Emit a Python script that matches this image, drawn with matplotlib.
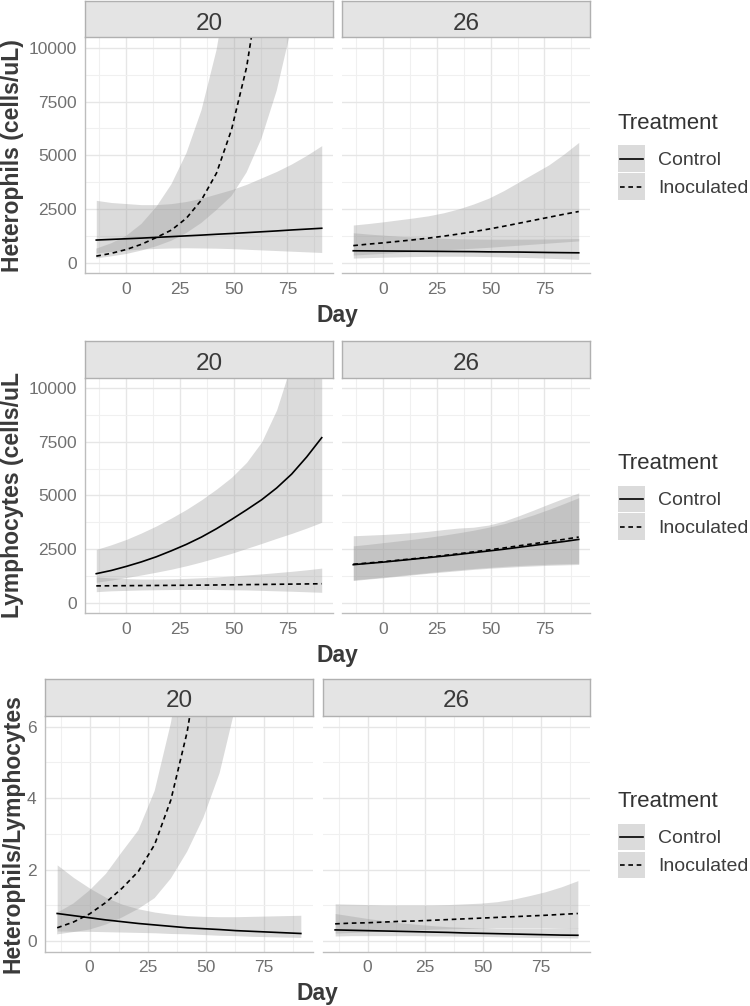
import matplotlib
matplotlib.use('Agg')
import matplotlib.pyplot as plt
import matplotlib.patches as patches
import matplotlib.transforms as mtransforms
from matplotlib.lines import Line2D

plt.rcParams['font.family'] = ['Liberation Sans', 'DejaVu Sans']

# ---- data ----
days = [-14, -7, 0, 7, 14, 21, 28, 35, 42, 49, 56, 63, 70, 77, 84, 91]
temps = ['20', '26']
treatments = ['Control', 'Inoculated']

# Heterophils, 20
het20_ctrl = [1050, 1080, 1110, 1140, 1175, 1210, 1245, 1280, 1320, 1355, 1395, 1435, 1475, 1520, 1560, 1600]
het20_ctrl_lo = [450, 520, 580, 630, 660, 680, 690, 680, 670, 650, 620, 590, 560, 530, 500, 470]
het20_ctrl_hi = [2900, 2800, 2750, 2700, 2700, 2750, 2850, 3000, 3200, 3400, 3650, 3950, 4250, 4600, 5000, 5450]
het20_inoc = [300, 430, 610, 850, 1170, 1515, 2070, 2920, 4170, 6200, 9100, 13500, 20000, 29000, 42000, 62000]
het20_inoc_lo = [190, 290, 400, 560, 760, 1020, 1380, 1850, 2450, 3100, 4200, 5800, 8000, 11000, 15000, 20000]
het20_inoc_hi = [650, 900, 1250, 1800, 2600, 3650, 5100, 7100, 9900, 14000, 20000, 28000, 39000, 54000, 75000, 100000]
# Heterophils, 26
het26_ctrl = [550, 545, 540, 535, 530, 525, 520, 515, 510, 500, 495, 490, 480, 470, 462, 455]
het26_ctrl_lo = [210, 230, 250, 265, 280, 290, 295, 295, 290, 280, 265, 245, 225, 200, 175, 150]
het26_ctrl_hi = [1390, 1330, 1280, 1230, 1190, 1160, 1130, 1110, 1100, 1090, 1090, 1090, 1095, 1100, 1110, 1120]
het26_inoc = [790, 860, 920, 990, 1060, 1140, 1230, 1330, 1440, 1560, 1690, 1830, 1970, 2110, 2250, 2380]
het26_inoc_lo = [350, 390, 430, 470, 510, 550, 590, 630, 670, 710, 760, 810, 860, 910, 960, 1010]
het26_inoc_hi = [1750, 1820, 1900, 1990, 2080, 2180, 2320, 2500, 2730, 3000, 3350, 3750, 4150, 4550, 5050, 5600]

# Lymphocytes, 20
lym20_ctrl = [1350, 1500, 1690, 1900, 2140, 2420, 2720, 3060, 3450, 3880, 4330, 4800, 5350, 6000, 6800, 7700]
lym20_ctrl_lo = [950, 1050, 1170, 1290, 1420, 1560, 1720, 1900, 2100, 2300, 2530, 2760, 3000, 3230, 3480, 3750]
lym20_ctrl_hi = [2480, 2700, 2950, 3250, 3580, 3950, 4350, 4800, 5300, 5850, 6550, 7500, 9000, 11200, 14000, 17500]
lym20_inoc = [780, 785, 790, 795, 800, 805, 810, 815, 822, 830, 838, 846, 855, 863, 871, 880]
lym20_inoc_lo = [510, 550, 570, 590, 600, 610, 615, 615, 610, 600, 590, 570, 550, 530, 505, 480]
lym20_inoc_hi = [1200, 1150, 1120, 1100, 1100, 1110, 1130, 1160, 1200, 1240, 1290, 1340, 1400, 1460, 1530, 1610]
# Lymphocytes, 26
lym26_ctrl = [1770, 1830, 1890, 1960, 2030, 2100, 2170, 2250, 2330, 2410, 2490, 2580, 2670, 2760, 2850, 2950]
lym26_ctrl_lo = [1030, 1100, 1160, 1230, 1300, 1370, 1430, 1490, 1550, 1600, 1640, 1680, 1710, 1740, 1760, 1780]
lym26_ctrl_hi = [2650, 2720, 2800, 2880, 2960, 3050, 3150, 3260, 3380, 3520, 3680, 3880, 4100, 4350, 4620, 4900]
lym26_inoc = [1790, 1850, 1910, 1980, 2050, 2120, 2200, 2280, 2370, 2460, 2550, 2650, 2750, 2850, 2950, 3060]
lym26_inoc_lo = [1060, 1120, 1190, 1260, 1330, 1400, 1470, 1530, 1590, 1640, 1690, 1730, 1760, 1790, 1810, 1830]
lym26_inoc_hi = [3120, 3150, 3180, 3220, 3270, 3330, 3410, 3480, 3520, 3620, 3800, 4050, 4320, 4600, 4870, 5120]

# Heterophils/Lymphocytes, 20
hl20_ctrl = [0.77, 0.71, 0.65, 0.59, 0.54, 0.49, 0.45, 0.41, 0.37, 0.345, 0.32, 0.29, 0.27, 0.25, 0.23, 0.21]
hl20_ctrl_lo = [0.28, 0.27, 0.27, 0.26, 0.25, 0.24, 0.23, 0.21, 0.2, 0.18, 0.16, 0.15, 0.13, 0.12, 0.11, 0.1]
hl20_ctrl_hi = [2.13, 1.78, 1.48, 1.22, 1.03, 0.9, 0.81, 0.75, 0.71, 0.69, 0.68, 0.68, 0.69, 0.7, 0.71, 0.72]
hl20_inoc = [0.37, 0.53, 0.76, 1.08, 1.48, 1.95, 2.7, 3.95, 5.85, 8.6, 12.5, 18, 26, 38, 55, 80]
hl20_inoc_lo = [0.185, 0.25, 0.32, 0.46, 0.66, 0.9, 1.2, 1.75, 2.5, 3.45, 4.7, 6.6, 9.5, 13.5, 19, 27]
hl20_inoc_hi = [0.79, 1.05, 1.42, 1.88, 2.5, 3.1, 4.2, 6.1, 8.8, 13, 19, 28, 40, 58, 82, 115]
# Heterophils/Lymphocytes, 26
hl26_ctrl = [0.31, 0.3, 0.29, 0.28, 0.27, 0.26, 0.25, 0.24, 0.225, 0.215, 0.205, 0.195, 0.185, 0.175, 0.165, 0.16]
hl26_ctrl_lo = [0.14, 0.15, 0.15, 0.15, 0.15, 0.15, 0.14, 0.14, 0.13, 0.13, 0.12, 0.11, 0.1, 0.095, 0.09, 0.08]
hl26_ctrl_hi = [0.77, 0.7, 0.63, 0.57, 0.51, 0.47, 0.43, 0.4, 0.38, 0.37, 0.36, 0.36, 0.36, 0.36, 0.37, 0.37]
hl26_inoc = [0.48, 0.5, 0.51, 0.53, 0.55, 0.56, 0.58, 0.6, 0.62, 0.64, 0.66, 0.68, 0.7, 0.72, 0.745, 0.77]
hl26_inoc_lo = [0.22, 0.24, 0.26, 0.28, 0.3, 0.31, 0.33, 0.34, 0.35, 0.36, 0.37, 0.37, 0.37, 0.37, 0.37, 0.36]
hl26_inoc_hi = [1.04, 1.03, 1.02, 1.01, 1.01, 1.01, 1.01, 1.02, 1.04, 1.06, 1.1, 1.17, 1.27, 1.38, 1.52, 1.69]

x_ticks = [0, 25, 50, 75]
x_ticklabels = ['0', '25', '50', '75']
cells_ticks = [0, 2500, 5000, 7500, 10000]
cells_ticklabels = ['0', '2500', '5000', '7500', '10000']
ratio_ticks = [0, 2, 4, 6]
ratio_ticklabels = ['0', '2', '4', '6']
ylabels = ['Heterophils (cells/uL)', 'Lymphocytes (cells/uL', 'Heterophils/Lymphocytes']

# ---- layout (pixels, origin top-left) ----
W, H = 750, 1006
fig = plt.figure(figsize=(W / 100, H / 100), dpi=100)
T = mtransforms.Affine2D().scale(1 / W, -1 / H).translate(0, 1) + fig.transFigure

BAND = '#999999'
DASH = (0, (2.8, 2.2))
TXT = '#3a3a3a'
LW = 1.2


def px_axes(l, t, r, b):
    return fig.add_axes([l / W, 1 - b / H, (r - l) / W, (b - t) / H])


def draw_panel(ax, ctrl, inoc, ylim, yticks, yticklabels, first):
    # ribbons first, lines on top
    ax.fill_between(days, ctrl[1], ctrl[2], color=BAND, alpha=0.35, lw=0)
    ax.fill_between(days, inoc[1], inoc[2], color=BAND, alpha=0.35, lw=0)
    ax.plot(days, ctrl[0], color='black', lw=LW)
    ax.plot(days, inoc[0], color='black', lw=LW, ls=DASH)

    ax.set_xlim(-19.25, 96.25)
    ax.set_ylim(ylim)
    ax.set_xticks(x_ticks)
    ax.set_xticklabels(x_ticklabels)
    ax.set_xticks([-12.5, 12.5, 37.5, 62.5, 87.5], minor=True)
    ax.set_yticks(yticks)
    ax.set_yticks([(a + b) / 2 for a, b in zip(yticks[:-1], yticks[1:])], minor=True)
    if first:
        ax.set_yticklabels(yticklabels)
    else:
        ax.set_yticklabels([])
    ax.grid(which='major', color='#e6e6e6', lw=1.0)
    ax.grid(which='minor', color='#f0f0f0', lw=0.8)
    ax.set_axisbelow(True)
    ax.tick_params(which='both', length=0, labelsize=12.5, labelcolor='#707070', pad=6)
    for side in ['top', 'right']:
        ax.spines[side].set_visible(False)
    ax.spines['left'].set_visible(first)
    for side in ['left', 'bottom']:
        ax.spines[side].set_color('#bdbdbd')
        ax.spines[side].set_linewidth(1.0)


def draw_strip(l, t, r, b, label):
    sa = px_axes(l, t, r, b)
    sa.set_facecolor('#e4e4e4')
    sa.set_xticks([])
    sa.set_yticks([])
    for s in sa.spines.values():
        s.set_color('#b0b0b0')
        s.set_linewidth(1.0)
    fig.text((l + r) / 2, t + 28.5, label, ha='center', va='baseline',
             fontsize=17.5, color=TXT, transform=T)


def draw_legend(yc):
    fig.text(618, yc - 32, 'Treatment', fontsize=16, color='#333333',
             ha='left', va='center', transform=T)
    for i, (lab, ls) in enumerate(zip(treatments, ['-', DASH])):
        top = yc - 10 + i * 28
        fig.add_artist(patches.Rectangle((618, top), 27, 26.5, transform=T,
                                         facecolor=BAND, alpha=0.35, lw=0))
        fig.add_artist(Line2D([620, 643], [top + 13.5, top + 13.5], transform=T,
                              color='black', lw=LW, ls=ls))
        fig.text(658, top + 15, lab, fontsize=14, color='#3d3d3d',
                 ha='left', va='center', transform=T)


rows = [
    dict(data=[((het20_ctrl, het20_ctrl_lo, het20_ctrl_hi), (het20_inoc, het20_inoc_lo, het20_inoc_hi)),
               ((het26_ctrl, het26_ctrl_lo, het26_ctrl_hi), (het26_inoc, het26_inoc_lo, het26_inoc_hi))],
         ylim=(-500, 10500), ticks=cells_ticks, ticklabels=cells_ticklabels,
         strip_top=1, top=37.3, bottom=273.3, cols=[(85, 333), (342, 590)], day_base=321.7),
    dict(data=[((lym20_ctrl, lym20_ctrl_lo, lym20_ctrl_hi), (lym20_inoc, lym20_inoc_lo, lym20_inoc_hi)),
               ((lym26_ctrl, lym26_ctrl_lo, lym26_ctrl_hi), (lym26_inoc, lym26_inoc_lo, lym26_inoc_hi))],
         ylim=(-500, 10500), ticks=cells_ticks, ticklabels=cells_ticklabels,
         strip_top=341, top=377.7, bottom=613.3, cols=[(85, 333), (342, 590)], day_base=661.7),
    dict(data=[((hl20_ctrl, hl20_ctrl_lo, hl20_ctrl_hi), (hl20_inoc, hl20_inoc_lo, hl20_inoc_hi)),
               ((hl26_ctrl, hl26_ctrl_lo, hl26_ctrl_hi), (hl26_inoc, hl26_inoc_lo, hl26_inoc_hi))],
         ylim=(-0.3, 6.3), ticks=ratio_ticks, ticklabels=ratio_ticklabels,
         strip_top=679, top=716, bottom=951.7, cols=[(45, 313), (323, 590)], day_base=1000),
]

for r, row in enumerate(rows):
    for c, (l, rr) in enumerate(row['cols']):
        ax = px_axes(l, row['top'], rr, row['bottom'])
        ctrl, inoc = row['data'][c]
        draw_panel(ax, ctrl, inoc, row['ylim'], row['ticks'], row['ticklabels'], c == 0)
        draw_strip(l, row['strip_top'], rr, row['top'], temps[c])

    yc = (row['top'] + row['bottom']) / 2
    fig.text(1, yc, ylabels[r], rotation=90, ha='left', va='center', fontsize=16.5,
             fontweight='bold', color=TXT, transform=T)
    cx = (row['cols'][0][0] + row['cols'][1][1]) / 2
    fig.text(cx, row['day_base'], 'Day', ha='center', va='baseline', fontsize=16.5,
             fontweight='bold', color=TXT, transform=T)
    draw_legend(yc)

fig.savefig('out.png', dpi=100)
